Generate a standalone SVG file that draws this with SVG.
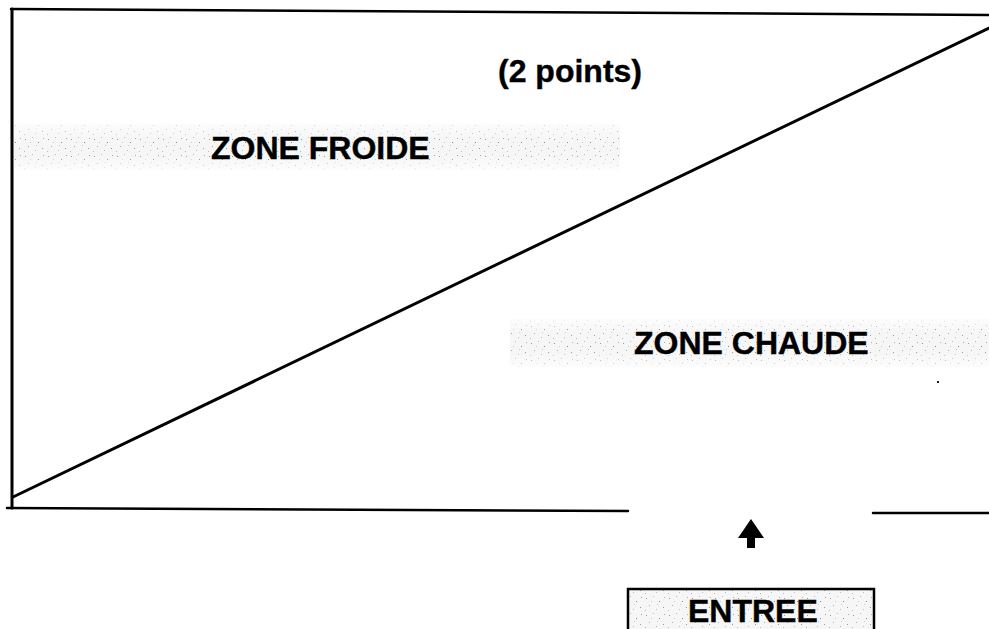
<svg xmlns="http://www.w3.org/2000/svg" width="989" height="629" viewBox="0 0 989 629">
<defs>
<pattern id="speck" width="23" height="17" patternUnits="userSpaceOnUse">
<rect width="23" height="17" fill="#f6f6f6"/>
<rect x="2" y="3" width="1" height="1" fill="#999"/>
<rect x="9" y="1" width="1" height="1" fill="#bbb"/>
<rect x="15" y="6" width="1" height="1" fill="#888"/>
<rect x="5" y="10" width="1" height="1" fill="#aaa"/>
<rect x="19" y="12" width="1" height="1" fill="#999"/>
<rect x="12" y="14" width="1" height="1" fill="#bbb"/>
<rect x="7" y="6" width="1" height="1" fill="#ccc"/>
<rect x="20" y="2" width="1" height="1" fill="#aaa"/>
<rect x="1" y="15" width="1" height="1" fill="#bbb"/>
<rect x="13" y="9" width="1" height="1" fill="#ccc"/>
</pattern>
<linearGradient id="fadeV" x1="0" y1="0" x2="0" y2="1">
<stop offset="0" stop-color="#fff" stop-opacity="0.3"/>
<stop offset="0.3" stop-color="#fff" stop-opacity="1"/>
<stop offset="0.7" stop-color="#fff" stop-opacity="1"/>
<stop offset="1" stop-color="#fff" stop-opacity="0.3"/>
</linearGradient>
<mask id="bandMask" maskContentUnits="objectBoundingBox">
<rect width="1" height="1" fill="url(#fadeV)"/>
</mask>
<style>
.ln{stroke:#000;stroke-width:2.5;fill:none;stroke-linecap:round}
.lbl{font-family:"Liberation Sans",Arial,sans-serif;font-weight:bold;font-size:32px;fill:#000;stroke:#000;stroke-width:0.4}
</style>
</defs>
<rect width="989" height="629" fill="#fff"/>
<g id="bands">
<rect x="14" y="124" width="606" height="46" fill="url(#speck)" mask="url(#bandMask)"/>
<rect x="510" y="319" width="479" height="48" fill="url(#speck)" mask="url(#bandMask)"/>
</g>
<g id="frame">
<line class="ln" x1="11" y1="9" x2="989" y2="15"/>
<line class="ln" x1="12" y1="9" x2="12" y2="508" style="stroke-width:3"/>
<line class="ln" x1="7" y1="508" x2="628" y2="511"/>
<line class="ln" x1="873" y1="513" x2="989" y2="513"/>
</g>
<g id="connectors">
<line class="ln" x1="13" y1="497" x2="989" y2="28" style="stroke-width:3"/>
<path id="arrow" d="M751 519 L764 538 L755 538 L755 548 L747 548 L747 538 L738 538 Z" fill="#000"/>
</g>
<g id="title"><text class="lbl" x="498" y="82">(2 points)</text></g>
<g id="zone-froide"><text class="lbl" x="211" y="159">ZONE FROIDE</text></g>
<g id="zone-chaude"><text class="lbl" x="634" y="354">ZONE CHAUDE</text></g>
<g id="entree">
<rect x="628" y="589" width="246" height="44" fill="url(#speck)" stroke="#000" stroke-width="2.5"/>
<text class="lbl" x="688" y="622">ENTREE</text>
</g>
<rect x="937" y="381" width="2" height="2" fill="#222"/>
</svg>
